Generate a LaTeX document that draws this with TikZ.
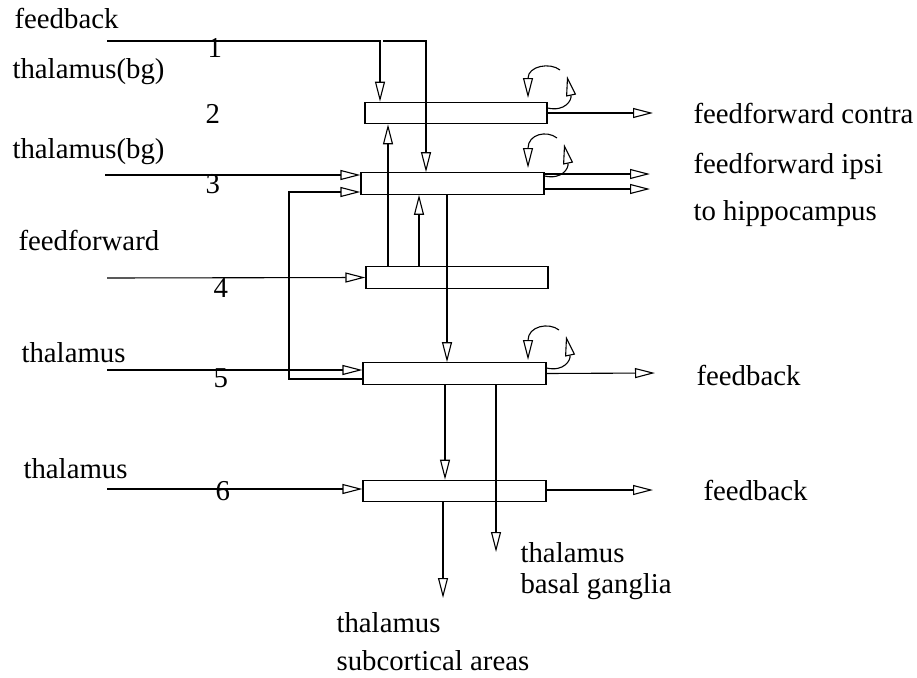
\documentclass[tikz,border=0pt]{standalone}
\usepackage{fontspec}
\setmainfont{Liberation Serif}
\usetikzlibrary{arrows.meta}
\begin{document}
\begin{tikzpicture}[x=1pt,y=-1pt,line width=1.1pt,
  arr/.style={-{Triangle[open,length=20pt,width=10pt]}},
  layer/.style={draw,rectangle,inner sep=0pt,minimum width=183pt,minimum height=21.5pt},
  lbl/.style={anchor=base west,inner sep=0pt,font=\fontsize{28.8}{34}\selectfont}]
\useasboundingbox (0,0) rectangle (917,677);
% layers
\node[layer,minimum width=182pt] (B2) at (456,113) {};
\node[layer] (B3) at (452.5,183.5) {};
\node[layer,minimum width=182pt] (B4) at (457,277.5) {};
\node[layer] (B5) at (454.5,373.5) {};
\node[layer] (B6) at (454.5,491) {};
% labels
\node[lbl] (t1) at (14,29) {feedback};
\node[lbl] (t2) at (12,78) {thalamus(bg)};
\node[lbl] (n1) at (207,57) {1};
\node[lbl] (n2) at (205,123) {2};
\node[lbl] (t3) at (12,158) {thalamus(bg)};
\node[lbl] (n3) at (205,193) {3};
\node[lbl] (t4) at (18,250) {feedforward};
\node[lbl] (n4) at (213,297) {4};
\node[lbl] (t5) at (21,362) {thalamus};
\node[lbl] (n5) at (213,387) {5};
\node[lbl] (t6) at (23,478) {thalamus};
\node[lbl] (n6) at (215,500) {6};
\node[lbl] (o2) at (693,123) {feedforward contra};
\node[lbl] (o3a) at (693,173) {feedforward ipsi};
\node[lbl] (o3b) at (693,220) {to hippocampus};
\node[lbl] (o5) at (696,385) {feedback};
\node[lbl] (o6) at (703,500) {feedback};
\node[lbl] (d1a) at (520,562) {thalamus};
\node[lbl] (d1b) at (520,593) {basal ganglia};
\node[lbl] (d2a) at (336,632) {thalamus};
\node[lbl] (d2b) at (336,670) {subcortical areas};
% free ends
\coordinate (i1) at (107,41);
\coordinate (i1b) at (383,41);
\coordinate (i3) at (105,175);
\coordinate (i4) at (107,278);
\coordinate (i5) at (107,370);
\coordinate (i6) at (107,489);
\coordinate (k) at (289,192);
\coordinate (e2) at (653,113);
\coordinate (e3a) at (650,174);
\coordinate (e3b) at (650,189);
\coordinate (e5) at (655,373);
\coordinate (e6) at (653,490);
\coordinate (bg) at (496,552);
\coordinate (sc) at (443,598);
% inputs
\draw[arr] (i1) -| ([xshift=-76pt]B2.north);
\draw[arr] (i1b) -| ([xshift=-26.5pt]B3.north);
\draw[arr] (i3) -- ([yshift=8.5pt]B3.west);
\draw[arr] ([yshift=-5.5pt]B5.west) -| (k) -- ([yshift=-8.5pt]B3.west);
\draw[arr] (i4) -- (B4.west);
\draw[arr] (i5) -- ([yshift=3.5pt]B5.west);
\draw[arr] (i6) -- ([yshift=2pt]B6.west);
% outputs
\draw[arr] (B2.east) -- (e2);
\draw[arr] ([yshift=9.5pt]B3.east) -- (e3a);
\draw[arr] ([yshift=-5.5pt]B3.east) -- (e3b);
\draw[arr] (B5.east) -- (e5);
\draw[arr] ([yshift=1pt]B6.east) -- (e6);
% verticals
\draw[arr] ([xshift=-69pt]B4.north) -- ([xshift=-68pt]B2.south);
\draw[arr] ([xshift=-38pt]B4.north) -- ([xshift=-33.5pt]B3.south);
\draw[arr] ([xshift=-5.5pt]B3.south) -- ([xshift=-7.5pt]B5.north);
\draw[arr] ([xshift=-9.5pt]B5.south) -- ([xshift=-9.5pt]B6.north);
\draw[arr] ([xshift=41.5pt]B5.south) -- (bg);
\draw[arr] ([xshift=-11.5pt]B6.south) -- (sc);
% recurrent loops
\draw[arr] ([yshift=5pt]B2.east) .. controls (565,112) and (572,100) .. (567,76);
\draw[arr] (560,70) .. controls (550,62) and (528,66) .. (528,98);
\draw[arr] ([yshift=7.5pt]B3.east) .. controls (562,180) and (569,168) .. (564,144);
\draw[arr] (557,138) .. controls (547,130) and (528,134) .. (528,168);
\draw[arr] ([yshift=5.5pt]B5.east) .. controls (564,372) and (571,360) .. (566,336);
\draw[arr] (559,330) .. controls (549,322) and (528,326) .. (528,360);
\end{tikzpicture}
\end{document}
